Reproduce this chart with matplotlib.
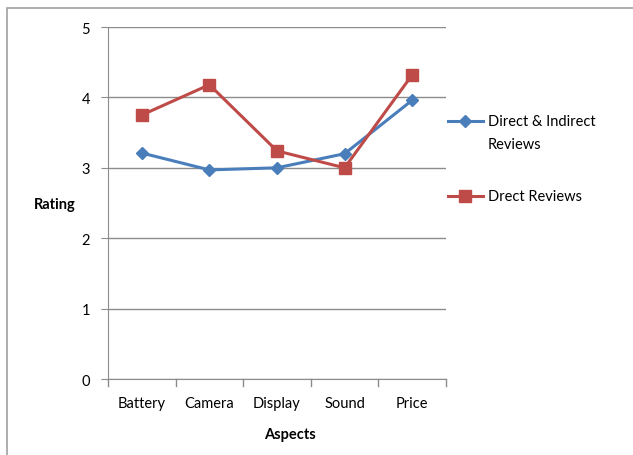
import matplotlib
matplotlib.use("Agg")
import matplotlib.pyplot as plt
from matplotlib.patches import Rectangle
from matplotlib.lines import Line2D

aspects = ["Battery", "Camera", "Display", "Sound", "Price"]
direct_indirect = [3.21, 2.97, 3.00, 3.20, 3.96]
direct = [3.75, 4.18, 3.24, 3.00, 4.32]
y_ticks = [0, 1, 2, 3, 4, 5]

plt.rcParams["font.family"] = ["Lato", "DejaVu Sans"]

W, H = 633, 456
fig = plt.figure(figsize=(W / 100, H / 100), dpi=100)


def fx(px):
    return px / W


def fy(py):
    return 1 - py / H


# outer chart border (runs off the right and bottom edges)
fig.patches.append(Rectangle((fx(7), -0.1), 2, fy(9) + 0.1,
                             transform=fig.transFigure, fill=False,
                             edgecolor="#a0a0a0", linewidth=1.2))

left, right, top, bottom = 108, 446, 28, 380
ax = fig.add_axes([fx(left), fy(bottom), (right - left) / W, (bottom - top) / H])

blue, red = "#4A7EBB", "#BE4B48"
x = list(range(len(aspects)))
ax.plot(x, direct_indirect, color=blue, linewidth=2.2, marker="D",
        markersize=6.5)
ax.plot(x, direct, color=red, linewidth=2.2, marker="s", markersize=8.5)

ax.set_xlim(-0.5, len(aspects) - 0.5)
ax.set_ylim(0, 5)
ax.set_yticks(y_ticks)
ax.set_yticklabels([str(t) for t in y_ticks], fontsize=10.5)
ax.yaxis.grid(True, color="#8c8c8c", linewidth=1.0)
ax.set_axisbelow(True)

ax.set_xticks(x)
ax.set_xticklabels(aspects, fontsize=10.5)
ax.tick_params(axis="x", length=0, pad=12)
ax.tick_params(axis="y", length=5, color="#8c8c8c", pad=8)
# category boundary ticks
for b in [i - 0.5 for i in range(len(aspects) + 1)]:
    ax.plot([b, b], [0, -0.1], color="#8c8c8c", linewidth=1.0, clip_on=False)

for s in ["top", "right"]:
    ax.spines[s].set_visible(False)
ax.spines["left"].set_color("#8c8c8c")
ax.spines["bottom"].set_color("#8c8c8c")

fig.text(fx(55), fy(205), "Rating", fontsize=10.5, fontweight="bold",
         ha="center", va="center")
fig.text(fx(290), fy(435), "Aspects", fontsize=10.5, fontweight="bold",
         ha="center", va="center")

# legend entries
legend_rows = [
    (blue, "D", 6.5, 122, ["Direct & Indirect", "Reviews"]),
    (red, "s", 8.5, 197, ["Drect Reviews"]),
]
for color, mk, ms, py, lines in legend_rows:
    fig.add_artist(Line2D([fx(448), fx(483)], [fy(py), fy(py)], color=color,
                          linewidth=2.2, transform=fig.transFigure))
    fig.add_artist(Line2D([fx(465.5)], [fy(py)], color=color, marker=mk,
                          markersize=ms, linestyle="none",
                          transform=fig.transFigure))
    for i, t in enumerate(lines):
        fig.text(fx(488), fy(py + 23 * i), t, fontsize=10.5,
                 ha="left", va="center")

fig.savefig("out.png", dpi=100)
